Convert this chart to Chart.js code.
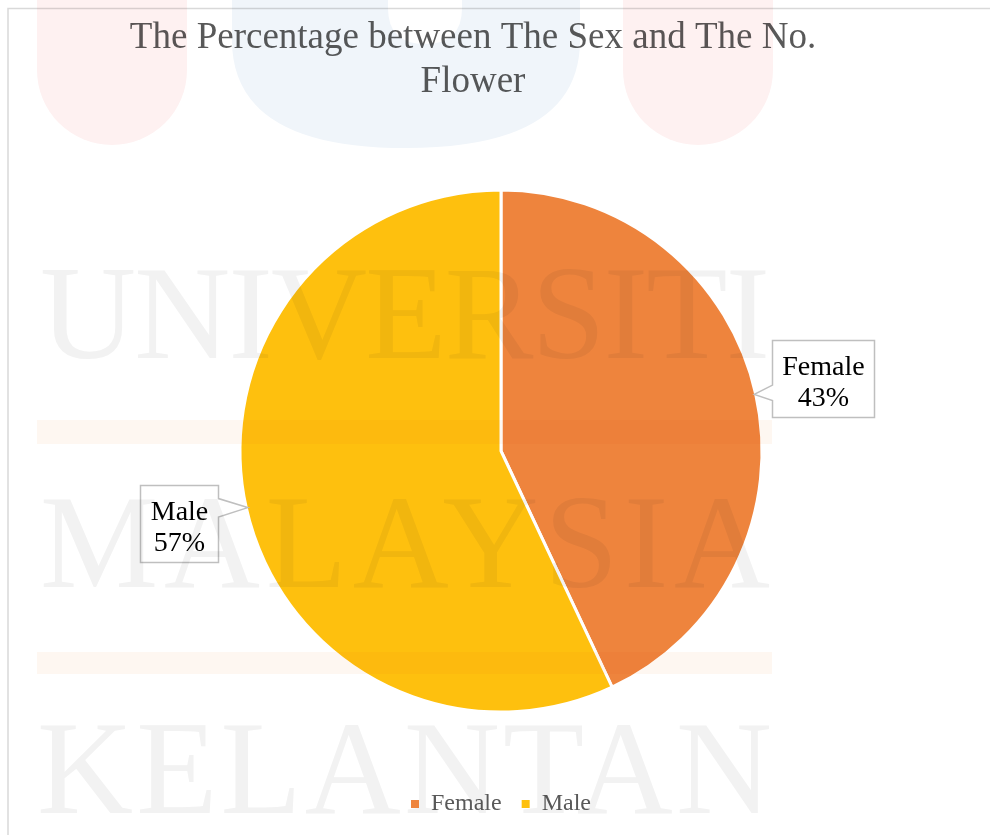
<!DOCTYPE html>
<html>
<head>
<meta charset="utf-8">
<title>The Percentage between The Sex and The No. Flower</title>
<script src="https://cdn.jsdelivr.net/npm/chart.js@4.4.1/dist/chart.umd.min.js"></script>
<style>
  html, body { margin: 0; padding: 0; background: #fff; }
  #wrap { position: relative; width: 990px; height: 835px; overflow: hidden; }
  #sexChart { position: absolute; left: 0; top: 0; }
  #watermark { position: absolute; left: 0; top: 0; pointer-events: none; mix-blend-mode: multiply; }
</style>
</head>
<body>
<div id="wrap">
  <canvas id="sexChart" width="990" height="835"></canvas>
  <!-- faint page watermark from the scanned thesis -->
  <svg id="watermark" width="990" height="835" xmlns="http://www.w3.org/2000/svg">
    <path d="M37 0 H187 V70 A75 75 0 0 1 37 70 Z" fill="#fef1f1"/>
    <path d="M232 0 H580 V40 Q580 148 406 148 Q232 148 232 40 Z" fill="#f0f5fa"/>
    <path d="M388 0 H462 V8 Q462 44 425 44 Q388 44 388 8 Z" fill="#ffffff"/>
    <path d="M623 0 H773 V70 A75 75 0 0 1 623 70 Z" fill="#fef1f1"/>
    <rect x="37" y="420" width="735" height="24" fill="#fef7f1"/>
    <rect x="37" y="652" width="735" height="22" fill="#fef7f1"/>
    <g font-family="'Liberation Serif', 'Times New Roman', serif" font-size="133" fill="#f2f2f2">
      <text x="40" y="358" textLength="730" lengthAdjust="spacing">UNIVERSITI</text>
      <text x="40" y="587" textLength="730" lengthAdjust="spacing">MALAYSIA</text>
      <text x="37" y="813" textLength="735" lengthAdjust="spacing">KELANTAN</text>
    </g>
  </svg>
</div>
<script>
document.addEventListener('DOMContentLoaded', function() {
    // dados
    const categories = ['Female', 'Male'];
    const percentValues = [43, 57];
    const titleLines = ['The Percentage between The Sex and The No.', 'Flower'];

    const sliceColors = ['#EE843D', '#FEC00E'];
    const serif = "'Liberation Serif', 'Times New Roman', serif";

    // moldura + título
    const frameTitle = {
        id: 'frameTitle',
        beforeDraw(chart) {
            const ctx = chart.ctx;
            ctx.save();
            ctx.strokeStyle = '#d9d9d9';
            ctx.lineWidth = 1.5;
            ctx.beginPath();
            ctx.moveTo(8, chart.height);
            ctx.lineTo(8, 8.5);
            ctx.lineTo(chart.width, 8.5);
            ctx.stroke();
            ctx.restore();
        },
        afterDraw(chart) {
            const ctx = chart.ctx;
            ctx.save();
            ctx.font = '37px ' + serif;
            ctx.fillStyle = '#595959';
            ctx.textAlign = 'center';
            ctx.textBaseline = 'alphabetic';
            titleLines.forEach(function(line, i) {
                ctx.fillText(line, 473, 48 + i * 44);
            });
            ctx.restore();
        }
    };

    // rótulos com balão
    const calloutLabels = {
        id: 'calloutLabels',
        afterDatasetsDraw(chart) {
            const ctx = chart.ctx;
            const meta = chart.getDatasetMeta(0);
            const data = chart.data.datasets[0].data;
            const total = data.reduce((a, b) => a + b, 0);
            ctx.save();
            ctx.font = '28px ' + serif;
            meta.data.forEach(function(arc, i) {
                const p = arc.getProps(['x', 'y', 'startAngle', 'endAngle', 'outerRadius'], true);
                const mid = (p.startAngle + p.endAngle) / 2;
                const r = p.outerRadius - 1.5;
                const tipX = p.x + r * Math.cos(mid);
                const tipY = p.y + r * Math.sin(mid);
                const cx = p.x + (r + 71) * Math.cos(mid);
                const cy = p.y + (r + 71) * Math.sin(mid);
                const lines = [chart.data.labels[i], Math.round(data[i] / total * 100) + '%'];
                const w = Math.max.apply(null, lines.map(t => ctx.measureText(t).width)) + 20;
                const h = 77;
                const L = Math.round(cx - w / 2) + 0.5, R = L + Math.round(w);
                const T = Math.round(cy - h / 2) + 0.5, B = T + h;
                let b1, b2;
                if (tipY < cy) { b1 = T + h * 0.17; b2 = T + h * 0.41; }
                else { b1 = T + h * 0.58; b2 = T + h * 0.78; }

                ctx.beginPath();
                ctx.moveTo(L, T);
                ctx.lineTo(R, T);
                if (tipX > R) {
                    ctx.lineTo(R, b1);
                    ctx.lineTo(tipX, tipY);
                    ctx.lineTo(R, b2);
                }
                ctx.lineTo(R, B);
                ctx.lineTo(L, B);
                if (tipX < L) {
                    ctx.lineTo(L, b2);
                    ctx.lineTo(tipX, tipY);
                    ctx.lineTo(L, b1);
                }
                ctx.closePath();
                ctx.fillStyle = '#ffffff';
                ctx.fill();
                ctx.strokeStyle = '#bfbfbf';
                ctx.lineWidth = 1.5;
                ctx.stroke();

                ctx.fillStyle = '#000000';
                ctx.textAlign = 'center';
                ctx.textBaseline = 'alphabetic';
                ctx.fillText(lines[0], (L + R) / 2, T + 34);
                ctx.fillText(lines[1], (L + R) / 2, T + 65);
            });
            ctx.restore();
        }
    };

    const defaultLabels = Chart.overrides.pie.plugins.legend.labels.generateLabels;

    const ctx = document.getElementById('sexChart').getContext('2d');
    new Chart(ctx, {
        type: 'pie',
        data: {
            labels: categories,
            datasets: [{
                data: percentValues,
                backgroundColor: sliceColors,
                borderColor: '#ffffff',
                borderWidth: 3,
                radius: 261
            }]
        },
        options: {
            responsive: false,
            animation: false,
            layout: {
                padding: { top: 130, left: 12, right: 0, bottom: 9 }
            },
            plugins: {
                title: { display: false },
                tooltip: { enabled: false },
                legend: {
                    position: 'bottom',
                    labels: {
                        boxWidth: 8,
                        boxHeight: 8,
                        padding: 20,
                        color: '#595959',
                        font: { family: serif, size: 24 },
                        generateLabels: function(chart) {
                            return defaultLabels(chart).map(function(item) {
                                item.lineWidth = 0;
                                item.strokeStyle = item.fillStyle;
                                return item;
                            });
                        }
                    }
                }
            }
        },
        plugins: [frameTitle, calloutLabels]
    });
});
</script>
</body>
</html>
